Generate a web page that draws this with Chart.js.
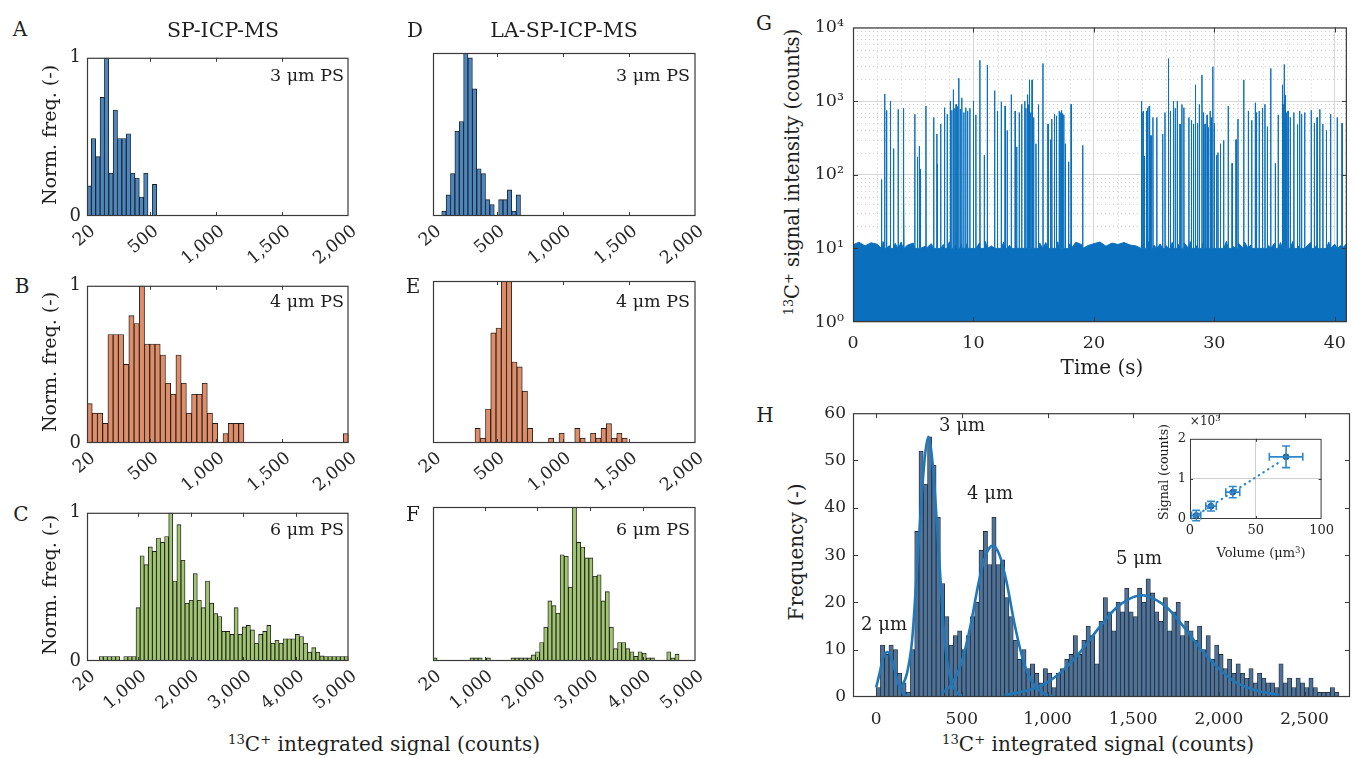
<!DOCTYPE html>
<html><head><meta charset="utf-8">
<script src="https://cdn.jsdelivr.net/npm/chart.js@4.4.1/dist/chart.umd.min.js"></script>
<style>
html,body{margin:0;padding:0;background:#fff;}
body{width:1357px;height:758px;position:relative;overflow:hidden;font-family:'DejaVu Serif',serif;color:#1e1e1e;}
canvas{position:absolute;}
.t{position:absolute;white-space:nowrap;line-height:1;transform:translate(-50%,-50%);}
.r{transform:translate(-100%,-50%);}
.v{transform:translate(-50%,-50%) rotate(-90deg);}
sup{font-size:0.66em;position:relative;top:-0.5em;vertical-align:baseline;line-height:0;}
</style></head><body>
<canvas id="cA"></canvas><canvas id="cB"></canvas><canvas id="cC"></canvas>
<canvas id="cD"></canvas><canvas id="cE"></canvas><canvas id="cF"></canvas>
<canvas id="cG"></canvas><canvas id="cH"></canvas><canvas id="cI"></canvas>

<div class="t" style="left:20px;top:29px;font-size:20px">A</div>
<div class="t" style="left:22px;top:286px;font-size:20px">B</div>
<div class="t" style="left:21px;top:514px;font-size:20px">C</div>
<div class="t" style="left:415px;top:30px;font-size:20px">D</div>
<div class="t" style="left:413px;top:286px;font-size:20px">E</div>
<div class="t" style="left:413px;top:514px;font-size:20px">F</div>
<div class="t" style="left:764px;top:23px;font-size:20px">G</div>
<div class="t" style="left:765px;top:415px;font-size:20px">H</div>

<div class="t" style="left:223px;top:30px;font-size:20.5px">SP-ICP-MS</div>
<div class="t" style="left:564px;top:30px;font-size:20.5px">LA-SP-ICP-MS</div>

<div class="t r" style="left:344px;top:76px;font-size:17.5px">3 μm PS</div>
<div class="t r" style="left:344px;top:302px;font-size:17.5px">4 μm PS</div>
<div class="t r" style="left:344px;top:530px;font-size:17.5px">6 μm PS</div>
<div class="t r" style="left:690px;top:76px;font-size:17.5px">3 μm PS</div>
<div class="t r" style="left:690px;top:302px;font-size:17.5px">4 μm PS</div>
<div class="t r" style="left:690px;top:530px;font-size:17.5px">6 μm PS</div>

<div class="t v" style="left:49px;top:135px;font-size:19px">Norm. freq. (-)</div>
<div class="t v" style="left:49px;top:362px;font-size:19px">Norm. freq. (-)</div>
<div class="t v" style="left:49px;top:585px;font-size:19px">Norm. freq. (-)</div>
<div class="t" style="left:384px;top:744px;font-size:20px"><sup>13</sup>C<sup>+</sup> integrated signal (counts)</div>

<div class="t v" style="left:793px;top:172px;font-size:19.5px"><sup>13</sup>C<sup>+</sup> signal intensity (counts)</div>
<div class="t" style="left:1102px;top:367px;font-size:20px">Time (s)</div>

<div class="t v" style="left:796px;top:552px;font-size:20px">Frequency (-)</div>
<div class="t" style="left:1098px;top:744px;font-size:20px"><sup>13</sup>C<sup>+</sup> integrated signal (counts)</div>
<div class="t" style="left:884px;top:624px;font-size:18px">2 μm</div>
<div class="t" style="left:962px;top:425px;font-size:18px">3 μm</div>
<div class="t" style="left:990px;top:493px;font-size:18px">4 μm</div>
<div class="t" style="left:1139px;top:558px;font-size:18px">5 μm</div>

<div class="t" style="left:1205px;top:421px;font-size:12px">×10<sup>3</sup></div>
<div class="t v" style="left:1164px;top:472px;font-size:12.5px">Signal (counts)</div>
<div class="t" style="left:1261px;top:552px;font-size:13px">Volume (μm<sup>3</sup>)</div>

<script>
// ---------------- DATA ----------------
// Panels A-F: normalized histogram heights, bins starting at 20 counts
const binStartAF = 20;
const binWidthA = 33, binWidthB = 39.6, binWidthC = 77.8;
const binWidthD = 33, binWidthE = 39.6, binWidthF = 77.8;
const heightsA = [0.19,0.49,0.375,0.75,1.0,0.27,0.67,0.49,0.49,0.52,0.27,0.24,0.12,0.27,0,0.2];
const heightsB = [0.25,0.19,0.19,0.125,0.69,0.69,0.69,0.5,0.81,0.76,1.0,0.63,0.63,0.63,0.56,0.38,0.31,0.56,0.38,0.19,
  0.31,0.31,0.38,0.19,0.125,0,0.06,0.125,0.125,0.125,0,0,0,0,0,0,0,0,0,0,0,0,0,0,0,0,0,0,0,0.06];
const heightsC = [0,0,0,0.03,0.03,0.03,0.03,0.03,0,0.03,0.03,0.03,
  0.36,0.71,0.65,0.77,0.74,0.83,0.80,0.84,1.0,0.54,0.92,0.68,0.39,0.41,0.59,0.41,0.36,0.54,0.39,0.32,0.30,0.20,0.20,0.18,
  0.36,0.18,0.23,0.24,0.21,0.12,0.18,0.20,0.24,0.12,0.14,0.12,0.15,0.15,0.15,0.18,0.165,0.12,0.06,0.09,0.06,0.035,
  0.03,0.03,0.03,0.03,0.03,0.03];
const heightsD = [0,0,0.03,0.13,0.26,0.52,0.58,1.0,0.97,0.78,0.29,0.26,0.1,0.07,0,0.1,0.1,0.16,0.03,0.13];
const heightsE = [0,0,0,0,0,0,0,0,0.09,0.03,0.21,0.68,0.71,1.0,1.0,0.5,0.47,0.32,0.09,0,0,0,0.03,0,0.06,0,0,0.09,0.03,0,
  0.06,0.03,0.09,0.12,0.03,0.06,0.03];
const heightsF = [0.02,0,0,0,0,0,0,0,0,0.02,0.02,0.02,0,0.02,0,0,0,0,0,0.02,0.02,0.02,0.02,0.02,0.04,0.06,0.12,0.22,
  0.39,0.36,0.31,0.69,0.68,0.48,1.0,0.77,0.74,0.67,0.67,0.55,0.56,0.39,0.45,0.22,0.08,0.12,0.12,0.08,0.06,0.03,0.06,0.05,
  0.02,0.02,0,0,0,0.06,0.02,0.045,0,0,0,0];
const ticksAB = [20,500,1000,1500,2000];
const ticksC = [20,1000,2000,3000,4000,5000];

// Panel G: time trace (background level every 0.5 s + spikes)
const noiseStep = 0.5;
const noiseLevel = [11.2,12.1,10.8,11.9,11.4,12.4,10.9,11.7,12.2,11.0,11.8,12.5,10.7,11.6,12.0,11.3,12.3,10.9,11.5,12.1,
  11.1,11.9,12.4,10.8,11.6,12.2,11.0,11.7,12.5,11.2,10.9,11.8,12.0,11.4,12.3,10.8,11.5,12.1,11.2,10.9,
  11.6,12.2,10.7,11.8,11.3,12.0,11.1,10.8,11.7,12.3,11.0,11.5,10.9,12.1,11.4,11.8,12.4,10.9,11.6,12.0,
  11.2,11.9,12.5,10.8,11.7,12.2,11.1,11.5,12.3,10.9,11.8,12.0,11.3,12.4,10.8,11.6,12.1,11.0,11.9,12.2,
  11.4,10.9,11.7];
const spikeTime = [2.37,2.63,2.79,3.11,3.37,3.75,4.17,4.23,5.13,5.35,5.51,5.6,6.06,6.7,6.96,7.0,7.28,7.6,7.82,8.08,
  8.2,8.33,8.45,8.56,8.65,8.78,8.9,9.04,9.2,9.36,9.52,9.7,10.0,10.2,10.54,10.9,11.15,11.76,11.99,12.31,
  12.63,12.8,13.14,13.46,13.59,13.8,14.01,14.26,14.35,14.49,14.55,14.65,14.75,14.87,15.0,15.19,15.4,15.77,16.19,16.4,
  16.51,16.73,16.89,17.12,17.2,17.31,17.4,17.5,17.63,17.9,18.11,19.07,23.94,24.0,24.1,24.2,24.36,24.45,24.58,24.65,
  24.74,24.9,25.22,25.71,25.9,26.19,26.35,26.6,26.75,26.92,27.15,27.3,27.47,27.88,28.1,28.27,28.43,28.6,28.75,28.97,
  29.1,29.23,29.4,29.49,29.65,29.75,29.87,30.0,30.19,30.3,30.51,30.77,31.15,31.47,31.8,31.96,32.44,32.82,33.1,33.4,
  33.5,33.72,34.0,34.2,34.4,34.68,35.06,35.3,35.64,35.7,35.8,35.9,36.0,36.12,36.3,36.6,36.9,37.08,37.24,37.5,
  38.04,38.3,38.53,38.75,39.01,39.3,39.65,40.2,40.6];
const spikeHeight = [86,1253,751,1000,227,774,798,60,664,175,244,120,858,600,359,140,489,815,664,1000,
  750,1431,800,903,850,2048,780,1108,700,815,736,800,1000,650,3594,185,3084,1388,736,980,
  858,400,1227,736,239,700,903,1000,800,1227,900,1945,700,1945,600,264,900,3245,489,300,
  570,664,631,736,700,751,680,650,264,150,903,251,1000,700,736,180,736,800,858,500,
  341,600,600,359,700,3784,736,1000,800,1000,489,900,815,600,550,489,1668,500,903,2268,
  700,489,650,441,736,600,2929,500,185,200,264,293,858,143,300,570,1945,736,550,950,
  700,736,800,903,450,2783,143,650,1668,900,3147,1200,700,736,600,699,480,736,664,700,
  751,500,600,774,489,400,664,600,500];
const spikeBase = 10;
const ticksGx = [0,10,20,30,40];
const ticksGy = [1,10,100,1000,10000];

// Panel H: histogram (bin width 25 counts, starting at 0) and Gaussian fits
const binStartH = 0, binWidthH = 25;
const countsH = [2,11,9,11,10,5,3,1,10,35, 52,45,55,49,38,24,17,11,13,14, 10,13,17,20,31,35,28,38,28,29,
  21,17,12,8,10,6,7,5,3,6, 5,2,5,6,8,9,13,9,12,15, 13,7,16,21,18,14,20,18,23,18,
  17,23,20,25,22,18,16,21,14,18, 20,13,16,14,12,15,10,13,8,11, 9,6,8,5,7,5,4,6,3,5,
  4,3,3,2,7,3,4,2,4,3, 2,4,2,1,1,1,2,1];
const fit2x = [0,20,40,65,90,110,130,155,180];
const fit2y = [2,5,8.2,9.5,8.2,5.5,2.8,0.9,0.2];
const fit3x = [140,180,210,240,265,285,305,325,345,370,400,430,470,500];
const fit3y = [1.6,5,12,28,42,51,55,51,42,28,12,4.5,1,0.3];
const fit4x = [380,440,500,550,600,640,680,720,760,810,860,920,980,1040];
const fit4y = [0.7,2.7,7.5,15,24.5,30,32,30,24.5,15,7.5,2.7,0.7,0.1];
const fit5x = [750,900,1000,1100,1200,1300,1400,1475,1550,1625,1700,1800,1900,2000,2100,2200,2350];
const fit5y = [0.4,1.6,3.1,6,9.9,14.6,18.8,20.7,21.5,20.7,18.8,14.6,9.9,6,3.1,1.6,0.4];
const ticksHx = [0,500,1000,1500,2000,2500];
const ticksHy = [0,10,20,30,40,50,60];

// Inset: signal (x10^3 counts) vs particle volume (um^3)
const insetVol = [4.7,16,32.5,73];
const insetSig = [0.086,0.32,0.67,1.55];
const insetVolErr = [3.5,4,5.3,12.7];
const insetSigErr = [0.13,0.12,0.14,0.27];
const insetFitVol = [3,68];
const insetFitSig = [0.05,1.42];
const ticksIx = [0,50,100];
const ticksIy = [0,1,2];

// ---------------- LAYOUT / STYLE ----------------
Chart.defaults.font.family = "'DejaVu Serif', serif";
Chart.defaults.color = '#262626';
const layout = {
  A:{l:87,t:53,r:353,b:216,L:32,T:12,R:14,B:48},
  B:{l:87,t:281,r:353,b:443,L:32,T:12,R:14,B:48},
  C:{l:87,t:508,r:353,b:661,L:32,T:12,R:14,B:48},
  D:{l:433,t:53,r:700,b:216,L:32,T:12,R:14,B:48},
  E:{l:433,t:281,r:700,b:443,L:32,T:12,R:14,B:48},
  F:{l:433,t:507,r:700,b:661,L:32,T:12,R:14,B:48},
  G:{l:853,t:22,r:1355,b:322,L:48,T:14,R:2,B:34},
  H:{l:853,t:408,r:1350,b:697,L:40,T:12,R:6,B:32},
  I:{l:1190,t:433,r:1332,b:519,L:16,T:6,R:6,B:20}
};
const colBlue = '#4a86c0', colOrange = '#df8c68', colGreen = '#9fc56f';
const fmt = v => Number(v).toLocaleString('en-US');

function place(id, g){
  const c = document.getElementById(id);
  c.width = g.r - g.l + g.L + g.R;
  c.height = g.b - g.t + g.T + g.B;
  c.style.left = (g.l - g.L) + 'px';
  c.style.top = (g.t - g.T) + 'px';
  return c;
}

const boxPlugin = {
  id:'mbox',
  afterDatasetsDraw(chart, args, o){
    const {ctx, chartArea:a} = chart;
    const xs = chart.scales.x, ys = chart.scales.y;
    const len = o.len || 4;
    ctx.save();
    ctx.strokeStyle = o.color || '#3a3a3a';
    ctx.lineWidth = 1;
    ctx.beginPath();
    xs.ticks.forEach(t=>{
      const p = Math.round(xs.getPixelForValue(t.value)) + 0.5;
      if (p <= a.left + 2 || p >= a.right - 2) return;
      ctx.moveTo(p, a.bottom); ctx.lineTo(p, a.bottom - len);
      ctx.moveTo(p, a.top); ctx.lineTo(p, a.top + len);
    });
    if (o.yticks !== false) ys.ticks.forEach(t=>{
      const p = Math.round(ys.getPixelForValue(t.value)) + 0.5;
      if (p <= a.top + 2 || p >= a.bottom - 2) return;
      ctx.moveTo(a.left, p); ctx.lineTo(a.left + len, p);
      ctx.moveTo(a.right, p); ctx.lineTo(a.right - len, p);
    });
    ctx.stroke();
    ctx.lineWidth = o.width || 1.2;
    ctx.strokeRect(a.left + 0.5, a.top + 0.5, a.right - a.left - 1, a.bottom - a.top - 1);
    ctx.restore();
  }
};

const minorGridPlugin = {
  id:'minorGrid',
  beforeDatasetsDraw(chart, args, o){
    if (!o || !o.xs) return;
    const {ctx, chartArea:a} = chart;
    const xs = chart.scales.x, ys = chart.scales.y;
    ctx.save();
    ctx.strokeStyle = o.color; ctx.lineWidth = 1; ctx.setLineDash(o.dash);
    ctx.beginPath();
    o.xs.forEach(v=>{const p = Math.round(xs.getPixelForValue(v)) + 0.5; ctx.moveTo(p, a.top); ctx.lineTo(p, a.bottom);});
    o.ys.forEach(v=>{const p = Math.round(ys.getPixelForValue(v)) + 0.5; ctx.moveTo(a.left, p); ctx.lineTo(a.right, p);});
    ctx.stroke();
    ctx.restore();
  }
};

const errPlugin = {
  id:'errbars',
  afterDatasetsDraw(chart, args, o){
    if (!o || !o.xerr) return;
    const {ctx} = chart;
    const xs = chart.scales.x, ys = chart.scales.y;
    const ds = chart.data.datasets[o.dataset].data;
    ctx.save();
    ctx.strokeStyle = o.color; ctx.lineWidth = o.width;
    ctx.beginPath();
    ds.forEach((pt,i)=>{
      const x0 = xs.getPixelForValue(pt.x - o.xerr[i]), x1 = xs.getPixelForValue(pt.x + o.xerr[i]);
      const y0 = ys.getPixelForValue(pt.y - o.yerr[i]), y1 = ys.getPixelForValue(pt.y + o.yerr[i]);
      const px = xs.getPixelForValue(pt.x), py = ys.getPixelForValue(pt.y);
      ctx.moveTo(x0, py); ctx.lineTo(x1, py);
      ctx.moveTo(x0, py - o.cap); ctx.lineTo(x0, py + o.cap);
      ctx.moveTo(x1, py - o.cap); ctx.lineTo(x1, py + o.cap);
      ctx.moveTo(px, y0); ctx.lineTo(px, y1);
      ctx.moveTo(px - o.cap, y0); ctx.lineTo(px + o.cap, y0);
      ctx.moveTo(px - o.cap, y1); ctx.lineTo(px + o.cap, y1);
    });
    ctx.stroke();
    ctx.restore();
  }
};

function baseOpts(g){
  return {
    responsive:false, animation:false, devicePixelRatio:1,
    layout:{padding:{top:g.T, right:g.R, left:0, bottom:0}},
    plugins:{legend:{display:false}, tooltip:{enabled:false}}
  };
}

function histChart(id, g, width, heights, color, xMax, xTicks, showY){
  const cv = place(id, g);
  const data = heights.map((h,i)=>({x: binStartAF + width*(i+0.5), y: h}));
  const o = baseOpts(g);
  o.plugins.mbox = {len:4, yticks:false};
  o.scales = {
    x:{type:'linear', min:binStartAF, max:xMax, offset:false,
       grid:{display:false, drawTicks:false}, border:{display:false},
       afterBuildTicks:s=>{s.ticks = xTicks.map(v=>({value:v}));},
       afterFit:s=>{s.height = g.B;},
       ticks:{autoSkip:false, minRotation:40, maxRotation:40, padding:5, labelOffset:6, font:{size:17.5}, callback:v=>fmt(v)}},
    y:{type:'linear', min:0, max:1,
       grid:{display:false, drawTicks:false}, border:{display:false},
       afterBuildTicks:s=>{s.ticks = [{value:0},{value:1}];},
       afterFit:s=>{s.width = g.L;},
       ticks:{display:showY, padding:6, font:{size:18}, callback:v=>String(v)}}
  };
  return new Chart(cv, {
    type:'bar',
    data:{datasets:[{data, backgroundColor:color, borderColor:'#1c1c1c', borderWidth:0.9,
      categoryPercentage:1, barPercentage:1, borderSkipped:false}]},
    options:o, plugins:[boxPlugin]
  });
}

histChart('cA', layout.A, binWidthA, heightsA, colBlue, 2000, ticksAB, true);
histChart('cB', layout.B, binWidthB, heightsB, colOrange, 2000, ticksAB, true);
histChart('cC', layout.C, binWidthC, heightsC, colGreen, 5000, ticksC, true);
histChart('cD', layout.D, binWidthD, heightsD, colBlue, 2000, ticksAB, false);
histChart('cE', layout.E, binWidthE, heightsE, colOrange, 2000, ticksAB, false);
histChart('cF', layout.F, binWidthF, heightsF, colGreen, 5000, ticksC, false);

// ---------- Panel G ----------
(function(){
  const g = layout.G;
  const cv = place('cG', g);
  const pts = noiseLevel.map((v,i)=>({x:i*noiseStep, y:v}));
  spikeTime.forEach((t,i)=>{
    pts.push({x:t-0.012, y:spikeBase}, {x:t, y:spikeHeight[i]}, {x:t+0.012, y:spikeBase});
  });
  pts.sort((a,b)=>a.x-b.x);
  const minorT = [], minorY = [];
  for (let t = 2; t < 41; t += 2) if (t % 10 !== 0) minorT.push(t);
  for (let e = 0; e < 4; e++) for (let k = 2; k <= 9; k++) minorY.push(k*Math.pow(10,e));
  const sup = {0:'\u2070',1:'\u00B9',2:'\u00B2',3:'\u00B3',4:'\u2074'};
  const o = baseOpts(g);
  o.plugins.mbox = {len:5};
  o.plugins.minorGrid = {xs:minorT, ys:minorY, color:'#cfcfcf', dash:[1,3]};
  o.scales = {
    x:{type:'linear', min:0, max:41, offset:false,
       grid:{color:'#d6d6d6', drawTicks:false}, border:{display:false},
       afterBuildTicks:s=>{s.ticks = ticksGx.map(v=>({value:v}));},
       afterFit:s=>{s.height = g.B;},
       ticks:{autoSkip:false, maxRotation:0, padding:11, font:{size:17.5}, callback:v=>fmt(v)}},
    y:{type:'logarithmic', min:1, max:10000,
       grid:{color:'#d6d6d6', drawTicks:false}, border:{display:false},
       afterBuildTicks:s=>{s.ticks = ticksGy.map(v=>({value:v}));},
       afterFit:s=>{s.width = g.L;},
       ticks:{autoSkip:false, padding:9, font:{size:17.5}, callback:v=>'10'+sup[Math.round(Math.log10(v))]}}
  };
  new Chart(cv, {
    type:'line',
    data:{datasets:[{data:pts, borderColor:'#0a6fbd', backgroundColor:'#0a6fbd', borderWidth:1,
      pointRadius:0, fill:'start', tension:0}]},
    options:o, plugins:[minorGridPlugin, boxPlugin]
  });
})();

// ---------- Panel H ----------
(function(){
  const g = layout.H;
  const cv = place('cH', g);
  const bars = countsH.map((c,i)=>({x: binStartH + binWidthH*(i+0.5), y:c}));
  const curve = (xs, ys) => xs.map((x,i)=>({x, y:ys[i]}));
  const lineDs = (xs, ys) => ({type:'line', data:curve(xs,ys), borderColor:'#2277b8', borderWidth:2.6,
      pointRadius:0, fill:false, tension:0.4, cubicInterpolationMode:'monotone', order:0});
  const o = baseOpts(g);
  o.plugins.mbox = {len:5};
  o.scales = {
    x:{type:'linear', min:-135, max:2765, offset:false,
       grid:{display:false, drawTicks:false}, border:{display:false},
       afterBuildTicks:s=>{s.ticks = ticksHx.map(v=>({value:v}));},
       afterFit:s=>{s.height = g.B;},
       ticks:{autoSkip:false, maxRotation:0, padding:12, font:{size:17}, callback:v=>fmt(v)}},
    y:{type:'linear', min:0, max:60,
       grid:{display:false, drawTicks:false}, border:{display:false},
       afterBuildTicks:s=>{s.ticks = ticksHy.map(v=>({value:v}));},
       afterFit:s=>{s.width = g.L;},
       ticks:{autoSkip:false, padding:7, font:{size:17}, callback:v=>String(v)}}
  };
  new Chart(cv, {
    type:'bar',
    data:{datasets:[
      {data:bars, backgroundColor:'#4f7398', borderColor:'#1d2733', borderWidth:0.8,
        categoryPercentage:1, barPercentage:1, borderSkipped:false, order:5},
      lineDs(fit2x, fit2y), lineDs(fit3x, fit3y), lineDs(fit4x, fit4y), lineDs(fit5x, fit5y)
    ]},
    options:o, plugins:[boxPlugin]
  });
})();

// ---------- Inset ----------
(function(){
  const g = layout.I;
  const cv = place('cI', g);
  const o = baseOpts(g);
  o.plugins.mbox = {len:3, width:1};
  o.plugins.errbars = {dataset:1, xerr:insetVolErr, yerr:insetSigErr, color:'#2f86c8', width:1.6, cap:4};
  o.scales = {
    x:{type:'linear', min:0, max:100, offset:false,
       grid:{color:c=>c.tick && c.tick.value===50 ? '#d0d0d0' : 'rgba(0,0,0,0)', drawTicks:false}, border:{display:false},
       afterBuildTicks:s=>{s.ticks = ticksIx.map(v=>({value:v}));},
       afterFit:s=>{s.height = g.B;},
       ticks:{autoSkip:false, maxRotation:0, padding:4, font:{size:13}, callback:v=>String(v)}},
    y:{type:'linear', min:0, max:2,
       grid:{color:c=>c.tick && c.tick.value===1 ? '#d0d0d0' : 'rgba(0,0,0,0)', drawTicks:false}, border:{display:false},
       afterBuildTicks:s=>{s.ticks = ticksIy.map(v=>({value:v}));},
       afterFit:s=>{s.width = g.L;},
       ticks:{autoSkip:false, padding:4, font:{size:13}, callback:v=>String(v)}}
  };
  new Chart(cv, {
    type:'scatter',
    data:{datasets:[
      {type:'line', data:insetFitVol.map((v,i)=>({x:v, y:insetFitSig[i]})), borderColor:'#2f86c8',
        borderWidth:2.2, borderDash:[0.5,5], borderCapStyle:'round', pointRadius:0, fill:false},
      {data:insetVol.map((v,i)=>({x:v, y:insetSig[i]})), pointRadius:3, backgroundColor:'#1d5f96', borderColor:'#1d5f96'}
    ]},
    options:o, plugins:[boxPlugin, errPlugin]
  });
})();
</script>
</body></html>
